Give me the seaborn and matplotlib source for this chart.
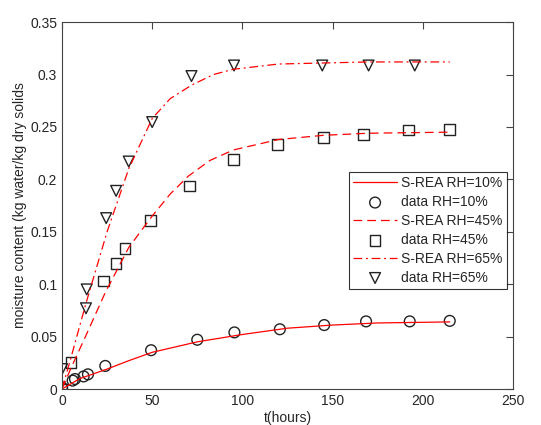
import numpy as np
import pandas as pd
import seaborn as sns
import matplotlib.pyplot as plt

# measured data
t10 = [0, 5.9, 7.2, 12, 14.4, 24, 49.4, 75, 95.6, 120.8, 145.4, 168.6, 192.8, 215]
m10 = [0.0016, 0.008, 0.0095, 0.012, 0.014, 0.022, 0.037, 0.047, 0.054, 0.057, 0.061, 0.0645, 0.0645, 0.065]
t45 = [0, 5, 23, 30, 35, 49, 70.7, 95, 119.6, 145.2, 167.3, 192, 215]
m45 = [0, 0.025, 0.103, 0.12, 0.134, 0.161, 0.1936, 0.219, 0.2336, 0.240, 0.2425, 0.247, 0.2476]
t65 = [0, 13.3, 13.7, 24.5, 30, 37, 50, 71.8, 95.4, 144.3, 170, 195.6]
m65 = [0.019, 0.077, 0.095, 0.163, 0.189, 0.217, 0.2546, 0.2985, 0.3086, 0.3086, 0.3086, 0.3086]

# S-REA model curves
tm10 = [0, 10, 25, 37, 50, 75, 100, 125, 150, 175, 215]
mm10 = [0, 0.010, 0.019, 0.027, 0.035, 0.045, 0.052, 0.058, 0.061, 0.063, 0.064]
tm45 = [0, 5, 13, 24, 37, 50, 60, 70, 82, 95, 120, 145, 170, 215]
mm45 = [0, 0.02, 0.05, 0.092, 0.135, 0.165, 0.186, 0.203, 0.218, 0.228, 0.238, 0.242, 0.244, 0.245]
tm65 = [0, 5, 13, 25, 37, 50, 60, 72, 84, 95, 120, 145, 170, 215]
mm65 = [0, 0.03, 0.08, 0.15, 0.21, 0.258, 0.277, 0.29, 0.30, 0.305, 0.310, 0.311, 0.312, 0.312]

sns.set_style('white')
plt.rcParams['font.family'] = ['Liberation Sans', 'DejaVu Sans']

fig = plt.figure(figsize=(5.41, 4.25), dpi=100)
ax = fig.add_axes([0.1146, 0.0847, 0.8334, 0.8633])

red = '#ff0000'
series = [
    ('10%', tm10, mm10, t10, m10, '-', 'o'),
    ('45%', tm45, mm45, t45, m45, (0, (7, 4)), 's'),
    ('65%', tm65, mm65, t65, m65, (0, (7, 3, 1.5, 3)), 'v'),
]
for rh, tm, mm, td, md, ls, mk in series:
    sns.lineplot(x=tm, y=mm, ax=ax, color=red, linewidth=0.9, linestyle=ls,
                 label='S-REA RH=' + rh, sort=False)
    sns.scatterplot(x=td, y=md, ax=ax, marker=mk, s=60, facecolor='none',
                    edgecolor='#222222', linewidth=1.0, label='data RH=' + rh)

ax.set_xlim(0, 250)
ax.set_ylim(0, 0.35)
ax.set_xticks([0, 50, 100, 150, 200, 250])
ax.set_yticks([0, 0.05, 0.1, 0.15, 0.2, 0.25, 0.3, 0.35])
ax.set_yticklabels(['0', '0.05', '0.1', '0.15', '0.2', '0.25', '0.3', '0.35'])
ax.tick_params(direction='in', top=True, right=True, length=5, labelsize=10,
               color='#444444', width=0.8)
for sp in ax.spines.values():
    sp.set_color('#444444')
    sp.set_linewidth(0.8)
ax.set_xlabel('t(hours)', fontsize=10, labelpad=2.5)
ax.set_ylabel('moisture content (kg water/kg dry solids', fontsize=10, labelpad=2)

leg = ax.legend(loc='upper right', bbox_to_anchor=(0.987, 0.591), fontsize=10,
                handlelength=3.2, frameon=True, fancybox=False, edgecolor='black',
                borderpad=0.3, labelspacing=0.35, handletextpad=0.3, borderaxespad=0)
leg.get_frame().set_linewidth(0.8)

fig.savefig('out.png', dpi=100)
